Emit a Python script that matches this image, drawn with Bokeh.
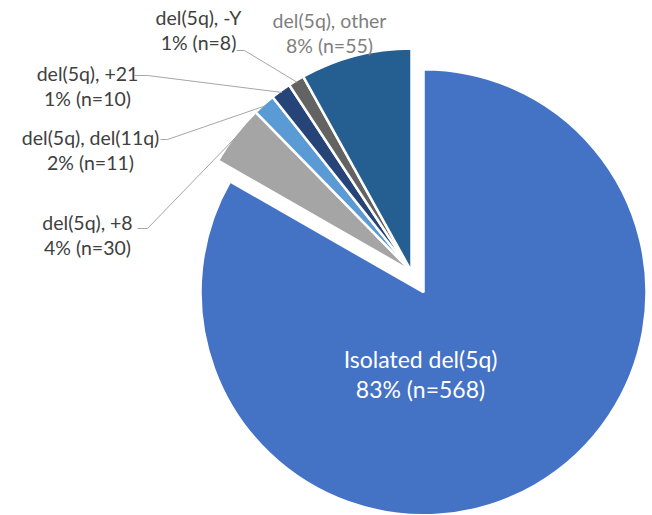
import math

from bokeh.core.properties import value
from bokeh.embed import file_html
from bokeh.models import ColumnDataSource, Range1d
from bokeh.plotting import figure
from bokeh.resources import INLINE

# Karyotype groups of del(5q) patients
groups = ["Isolated del(5q)", "del(5q), +8", "del(5q), del(11q)",
          "del(5q), +21", "del(5q), -Y", "del(5q), other"]
counts = [568, 30, 11, 10, 8, 55]
colors = ["#4472C4", "#A5A5A5", "#5B9BD5", "#264478", "#636363", "#255E91"]

W, H = 652, 515
CX, CY = 411, 271      # pie centre (pixels from top-left)
R = 223                # pie radius
EXPLODE = [24, 0, 0, 0, 0, 0]   # the isolated slice is pulled out

# label anchors (pixels from top-left, first line centre)
label_xy = [(420, 358), (87, 222), (90, 137), (87, 73), (198, 17), (329, 20)]
# leader lines: short horizontal stub next to the label, then to the slice
leader_stub = [None, (137, 147, 228), (160, 167, 139), (134, 147, 75),
               (236, 244, 50), None]
label_colors = ["white", "#404040", "#404040", "#404040", "#404040", "#7F7F7F"]
label_sizes = ["23px", "19.5px", "19.5px", "19.5px", "19.5px", "19.5px"]
line_gap = [30, 25, 25, 25, 25, 25]


def fy(y):
    """Convert a top-down pixel row to the plot's upward y coordinate."""
    return H - y


total = sum(counts)
fracs = [c / total for c in counts]

p = figure(width=W, height=H, output_backend="svg", toolbar_location=None,
           x_range=Range1d(0, W), y_range=Range1d(0, H), min_border=0)
p.axis.visible = False
p.grid.visible = False
p.outline_line_color = None
p.background_fill_color = "white"
p.border_fill_color = "white"

xs, ys, starts, ends, mids = [], [], [], [], []
cum = 0.0
for f, d in zip(fracs, EXPLODE):
    t1 = cum * 2 * math.pi          # clockwise from 12 o'clock
    t2 = (cum + f) * 2 * math.pi
    tm = (t1 + t2) / 2
    cum += f
    mids.append(tm)
    xs.append(CX + d * math.sin(tm))
    ys.append(fy(CY) + d * math.cos(tm))
    starts.append(math.pi / 2 - t2)
    ends.append(math.pi / 2 - t1)

src = ColumnDataSource(dict(x=xs, y=ys, start=starts, end=ends, color=colors))
p.wedge(x="x", y="y", radius=R, start_angle="start", end_angle="end",
        fill_color="color", line_color="white", line_width=2.5, source=src)

# leader lines from the labels to the outer arc of the small slices
mxs, mys = [], []
for i, stub in enumerate(leader_stub):
    if stub is None:
        continue
    tm = mids[i]
    ex = xs[i] + (R - 2) * math.sin(tm)
    ey = ys[i] + (R - 2) * math.cos(tm)
    x0, x1, yy = stub
    mxs.append([x0, x1, ex])
    mys.append([fy(yy), fy(yy), ey])
p.multi_line(xs=mxs, ys=mys, line_color="#A6A6A6", line_width=1)

# two-line labels: group name, then percentage and count
for i, name in enumerate(groups):
    pct = round(100 * fracs[i])
    x, y = label_xy[i]
    p.text(x=[x, x], y=[fy(y), fy(y + line_gap[i])],
           text=[name, f"{pct}% (n={counts[i]})"],
           text_align="center", text_baseline="middle",
           text_color=label_colors[i], text_font=value("Lato"),
           text_font_size=label_sizes[i])

open("out.html", "w").write(file_html(p, INLINE))
